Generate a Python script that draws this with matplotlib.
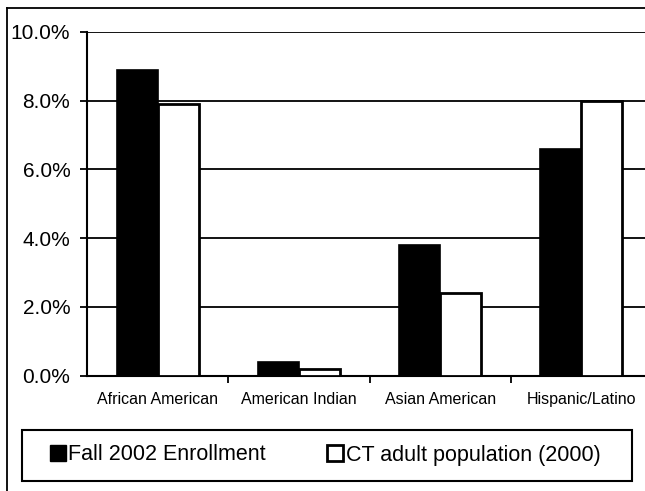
import matplotlib.pyplot as plt
import numpy as np
from matplotlib.lines import Line2D
from matplotlib.patches import Patch, Rectangle
from matplotlib.ticker import FuncFormatter

plt.rcParams["font.family"] = ["Liberation Sans", "DejaVu Sans"]

# Datos (porcentajes)
categories = ["African American", "American Indian", "Asian American", "Hispanic/Latino"]
fall_2002 = [8.9, 0.4, 3.8, 6.6]
ct_adult_2000 = [7.9, 0.2, 2.4, 8.0]
series_labels = ["Fall 2002 Enrollment", "CT adult population (2000)"]

fig = plt.figure(figsize=(6.45, 4.91), dpi=100)
ax = fig.add_axes([87 / 645, 1 - 375.7 / 491, 565 / 645, 344 / 491])

x = np.arange(len(categories))
w = 0.29
ax.bar(x - w / 2, fall_2002, w, color="black", edgecolor="black", linewidth=1.2, zorder=3)
ax.bar(x + w / 2, ct_adult_2000, w, color="white", edgecolor="black", linewidth=2.0, zorder=3)

ax.set_xlim(-0.5, len(categories) - 0.5)
ax.set_ylim(0, 10)
ax.set_yticks(np.arange(0, 10.1, 2))
ax.yaxis.set_major_formatter(FuncFormatter(lambda v, _: f"{v:.1f}%"))
ax.grid(axis="y", color="black", linewidth=1.3, zorder=1)
ax.set_axisbelow(True)

# Etiquetas en el centro, marcas en los limites de cada categoria
ax.set_xticks(x)
ax.set_xticklabels(categories, fontsize=11.5)
ax.set_xticks(np.arange(0.5, len(categories) - 0.5, 1), minor=True)
ax.tick_params(axis="x", which="major", length=0, pad=12)
ax.tick_params(axis="x", which="minor", length=5, width=1.3, direction="out")
ax.tick_params(axis="y", length=5, width=1.3, direction="out", pad=7, labelsize=15)

for side in ["top", "right"]:
    ax.spines[side].set_visible(False)
for side in ["left", "bottom"]:
    ax.spines[side].set_linewidth(1.5)

# Leyenda sin marco propio; el recuadro se dibuja aparte
handles = [
    Patch(facecolor="black", edgecolor="black"),
    Patch(facecolor="white", edgecolor="black", linewidth=2.0),
]
fig.legend(
    handles,
    series_labels,
    loc="center left",
    bbox_to_anchor=(50 / 645, 1 - 455 / 491),
    ncol=2,
    fontsize=15.5,
    frameon=False,
    handlelength=0.75,
    handleheight=0.75,
    handletextpad=0.1,
    columnspacing=2.85,
    borderpad=0,
    borderaxespad=0,
)
fig.add_artist(Rectangle((22 / 645, 1 - 481 / 491), 610 / 645, 51 / 491,
                         transform=fig.transFigure, fill=False,
                         edgecolor="black", linewidth=1.5))

# Marco exterior de la figura
fig.add_artist(Line2D([7 / 645, 7 / 645], [0, 1 - 8 / 491], color="black", linewidth=1.3))
fig.add_artist(Line2D([7 / 645, 1], [1 - 8 / 491, 1 - 8 / 491], color="black", linewidth=1.3))

fig.savefig("out.png", dpi=100)
